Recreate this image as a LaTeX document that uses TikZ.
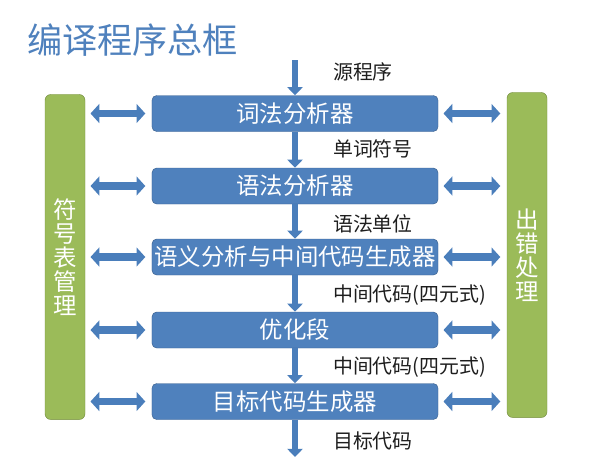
\documentclass[tikz,border=0pt]{standalone}
\usepackage{fontspec}
\setmainfont{Noto Sans CJK SC}
\usetikzlibrary{arrows.meta,positioning}
\definecolor{boxblue}{RGB}{79,129,189}
\definecolor{boxedge}{RGB}{58,96,142}
\definecolor{bargreen}{RGB}{155,187,89}
\definecolor{baredge}{RGB}{118,143,66}
\definecolor{arrowblue}{RGB}{74,126,187}
\definecolor{labelgray}{RGB}{30,30,30}

\tikzset{
  stage/.style={draw=boxedge, fill=boxblue, rounded corners=4pt, text=white,
    minimum width=8.58cm, minimum height=1.08cm, inner sep=0pt,
    font=\fontsize{20}{24}\selectfont},
  sidebar/.style={draw=baredge, fill=bargreen, rounded corners=5pt, text=white,
    minimum width=1.2cm, minimum height=9.75cm, inner sep=0pt, align=center,
    font=\fontsize{20}{20.4}\selectfont},
  flow/.style={arrowblue, line width=5pt, -{Triangle[length=7pt,width=13pt]}},
  link/.style={arrowblue, line width=6pt,
    {Triangle[length=7.5pt,width=16pt]}-{Triangle[length=7.5pt,width=16pt]},
    shorten <=4.5pt, shorten >=5.5pt},
  passlabel/.style={anchor=west, text=labelgray, font=\fontsize{17}{19}\selectfont}
}

\begin{document}
\begin{tikzpicture}[x=0.03cm,y=-0.03cm]
	\useasboundingbox (0,0) rectangle (597,467);
	\node[anchor=west, text=boxblue, font=\fontsize{30}{34}\selectfont] (title) at (23,40) {编译程序总框};
	% the five phases
	\node[stage] (lex) at (295,113.5) {词法分析器};
	\node[stage] (syn) at (295,186) {语法分析器};
	\node[stage] (sem) at (295,257) {语义分析与中间代码生成器};
	\node[stage] (opt) at (295,330) {优化段};
	\node[stage] (gen) at (295,401.5) {目标代码生成器};
	% side tables
	\node[sidebar] (symtab) at (65,257) {符\\号\\表\\管\\理};
	\node[sidebar] (err) at (527,255) {出\\错\\处\\理};
	\coordinate (src) at (295,60);
	\coordinate (obj) at (295,457);
	\draw[flow] (src) -- (lex.north);
	\draw[flow] (lex.south) -- (syn.north);
	\draw[flow] (syn.south) -- (sem.north);
	\draw[flow] (sem.south) -- (opt.north);
	\draw[flow] (opt.south) -- (gen.north);
	\draw[flow] (gen.south) -- (obj);
	\foreach \stagename in {lex,syn,sem,opt,gen}
	{
		\draw[link] (symtab.east |- \stagename) -- (\stagename.west);
		\draw[link] (\stagename.east) -- (err.west |- \stagename);
	}
	\node[passlabel] (srclabel) at (329,72) {源程序};
	\node[passlabel] (toklabel) at (329,149) {单词符号};
	\node[passlabel] (unitlabel) at (329,224) {语法单位};
	\node[passlabel] (irlabel) at (329,295) {中间代码(四元式)};
	\node[passlabel] (optlabel) at (329,367) {中间代码(四元式)};
	\node[passlabel] (objlabel) at (329,441) {目标代码};
\end{tikzpicture}
\end{document}
